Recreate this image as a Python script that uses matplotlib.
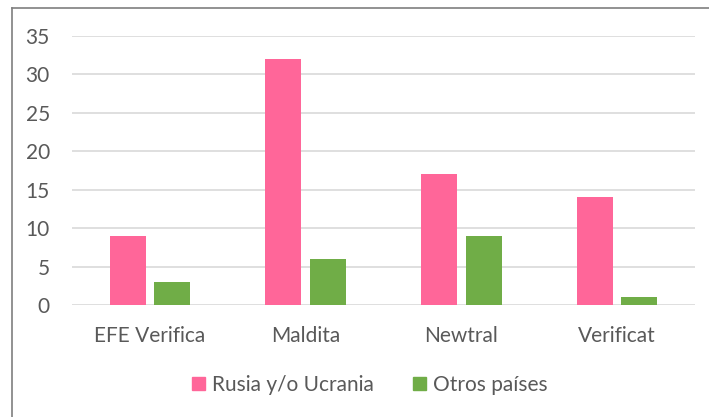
import matplotlib
matplotlib.use("Agg")
import matplotlib.pyplot as plt
import numpy as np
from matplotlib.lines import Line2D
from matplotlib.patches import Patch

categories = ["EFE Verifica", "Maldita", "Newtral", "Verificat"]
rusia = [9, 32, 17, 14]
otros = [3, 6, 9, 1]
series_names = ["Rusia y/o Ucrania", "Otros países"]
yticks = [0, 5, 10, 15, 20, 25, 30, 35]

pink = "#FF6699"
green = "#70AD47"
txt = "#595959"

plt.rcParams['font.family'] = ['Lato', 'DejaVu Sans']

fig = plt.figure(figsize=(7.09, 4.17), dpi=100)
ax = fig.add_axes([72/709, 1-305/417, (695-72)/709, (305-36)/417])

x = np.arange(len(categories))
w = 0.23
ax.bar(x - 0.143, rusia, w, color=pink, zorder=3)
ax.bar(x + 0.143, otros, w, color=green, zorder=3)

ax.set_xlim(-0.5, 3.5)
ax.set_ylim(0, 35)
ax.set_yticks(yticks)
ax.set_xticks(x)
ax.set_xticklabels(categories)
ax.tick_params(axis='both', length=0, labelsize=15, colors=txt)
ax.tick_params(axis='y', pad=16)
ax.tick_params(axis='x', pad=15)
ax.grid(axis='y', color="#D9D9D9", linewidth=1.2, zorder=0)
for s in ax.spines.values():
    s.set_visible(False)

handles = [Patch(color=pink), Patch(color=green)]
fig.legend(handles, series_names, loc='center', bbox_to_anchor=(370/709, 1-385/417),
           ncol=2, frameon=False, fontsize=15, labelcolor=txt,
           handlelength=0.6, handleheight=0.6, handletextpad=0.35, columnspacing=1.9)

# outer frame (left and top edges visible)
fig.add_artist(Line2D([12/709, 12/709], [0, 1-8/417], transform=fig.transFigure, color="#7F7F7F", linewidth=1.2))
fig.add_artist(Line2D([12/709, 1], [1-8/417, 1-8/417], transform=fig.transFigure, color="#7F7F7F", linewidth=1.2))

fig.savefig("out.png", dpi=100)
